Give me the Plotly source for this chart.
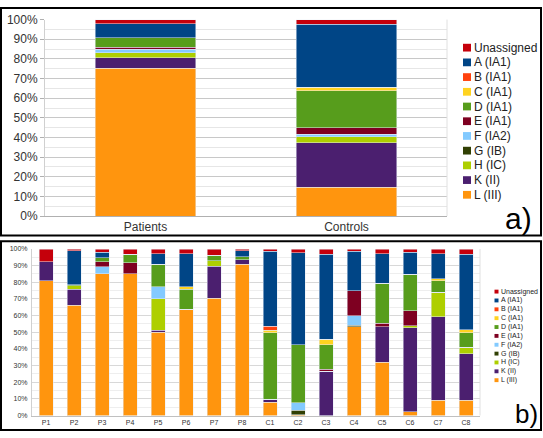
import plotly.graph_objects as go

W, H = 543, 438

# ---------------- data ----------------
series_names = ["L (III)", "K (II)", "H (IC)", "G (IB)", "F (IA2)", "E (IA1)",
                "D (IA1)", "C (IA1)", "B (IA1)", "A (IA1)", "Unassigned"]
series_colors = ["#ff950e", "#4b1f6f", "#aecf00", "#314004", "#83caff", "#7e0021",
                 "#579d1c", "#ffd320", "#ff420e", "#004586", "#c5000b"]

groups_a = ["Patients", "Controls"]
a_L = [75.3, 14.8]
a_K = [5.3, 22.4]
a_H = [2.6, 3.1]
a_G = [0.0, 0.0]
a_F = [1.8, 1.3]
a_E = [1.0, 3.3]
a_D = [4.8, 18.9]
a_C = [0.0, 1.7]
a_B = [0.0, 0.0]
a_A = [7.2, 32.0]
a_U = [2.0, 2.5]

groups_b = ["P1", "P2", "P3", "P4", "P5", "P6", "P7", "P8",
            "C1", "C2", "C3", "C4", "C5", "C6", "C7", "C8"]
b_L = [81.0, 66.1, 85.1, 85.1, 50.1, 63.8, 70.4, 90.7, 8.1, 0.6, 0.0, 53.2, 31.9, 2.3, 9.1, 9.1]
b_K = [11.3, 9.7, 0.0, 0.0, 1.2, 0.0, 19.3, 2.9, 1.6, 0.0, 26.5, 0.0, 21.3, 50.3, 50.3, 28.0]
b_H = [0.0, 2.0, 0.0, 0.0, 18.7, 0.0, 3.1, 0.0, 0.0, 0.0, 0.0, 0.0, 0.0, 1.4, 14.5, 3.9]
b_G = [0.0, 0.0, 0.0, 0.0, 0.0, 0.0, 0.0, 0.0, 0.0, 2.6, 0.0, 1.0, 0.0, 0.0, 0.0, 0.0]
b_F = [0.0, 0.0, 4.3, 0.0, 7.4, 0.0, 0.0, 0.0, 0.0, 4.5, 0.0, 5.6, 0.0, 0.0, 0.0, 0.0]
b_E = [0.0, 0.0, 2.9, 6.6, 0.0, 0.0, 0.0, 0.0, 0.0, 0.0, 1.4, 15.1, 2.3, 8.9, 0.0, 0.0]
b_D = [0.0, 0.8, 2.5, 5.0, 13.3, 12.0, 3.3, 1.6, 40.0, 34.7, 14.7, 0.0, 23.8, 22.0, 7.1, 8.7]
b_C = [0.0, 0.0, 0.0, 0.0, 0.0, 1.4, 0.0, 0.0, 1.4, 0.0, 3.2, 0.0, 0.0, 0.0, 1.0, 1.9]
b_B = [0.0, 0.0, 0.0, 0.0, 0.0, 0.0, 0.0, 0.0, 2.5, 0.0, 0.0, 0.0, 0.0, 0.0, 0.0, 0.0]
b_A = [0.0, 20.4, 3.3, 0.0, 6.4, 19.9, 0.0, 3.8, 45.0, 55.3, 50.9, 23.7, 17.8, 13.2, 15.1, 45.1]
b_U = [7.7, 1.0, 1.9, 3.3, 2.9, 2.9, 3.9, 1.0, 1.4, 2.3, 3.3, 1.4, 2.9, 1.9, 2.9, 3.3]

pct_ticks = [0, 10, 20, 30, 40, 50, 60, 70, 80, 90, 100]
pct_labels = [f"{v}%" for v in pct_ticks]

a_values = [a_L, a_K, a_H, a_G, a_F, a_E, a_D, a_C, a_B, a_A, a_U]
b_values = [b_L, b_K, b_H, b_G, b_F, b_E, b_D, b_C, b_B, b_A, b_U]

# ---------------- figure ----------------
fig = go.Figure()
for name, color, va, vb in zip(series_names, series_colors, a_values, b_values):
    fig.add_trace(go.Bar(x=groups_a, y=va, name=name, marker_color=color,
                         xaxis="x", yaxis="y", showlegend=False))
    fig.add_trace(go.Bar(x=groups_b, y=vb, name=name, marker_color=color,
                         xaxis="x2", yaxis="y2", showlegend=False))

def px_x(x):
    return x / W

def px_y(y):
    return 1 - y / H

FONT = "Liberation Sans, Arial, sans-serif"
grid_major = "#c8c8c8"
grid_minor = "#e6e6e6"

fig.update_layout(
    width=W, height=H,
    margin=dict(l=0, r=0, t=0, b=0),
    paper_bgcolor="white", plot_bgcolor="white",
    barmode="stack", bargap=0.5,
    font=dict(family=FONT, color="#333333"),
    xaxis=dict(domain=[px_x(45), px_x(447)], anchor="y", type="category",
               range=[-0.5, 1.5], showgrid=False, zeroline=False,
               showline=True, linecolor="#b0b0b0", mirror=False,
               ticks="", tickfont=dict(size=12, color="#333333")),
    yaxis=dict(domain=[px_y(216), px_y(13)], anchor="x", range=[0, 100],
               tickvals=pct_ticks, ticktext=pct_labels,
               showgrid=True, gridcolor=grid_major, gridwidth=1,
               minor=dict(dtick=5, showgrid=True, gridcolor=grid_minor),
               zeroline=False, showline=True, linecolor="#d0d0d0",
               ticks="outside", ticklen=4, tickcolor="#b0b0b0",
               tickfont=dict(size=12, color="#333333")),
    xaxis2=dict(domain=[px_x(32), px_x(480)], anchor="y2", type="category",
                range=[-0.5, 15.5], showgrid=False, zeroline=False,
                showline=True, linecolor="#c0c0c0", ticks="",
                tickfont=dict(size=7, color="#333333")),
    yaxis2=dict(domain=[px_y(422), px_y(250)], anchor="x2", range=[0, 100],
                tickvals=pct_ticks, ticktext=pct_labels,
                showgrid=True, gridcolor="#d8d8d8", gridwidth=1,
                minor=dict(dtick=5, showgrid=True, gridcolor="#eeeeee"),
                zeroline=False, showline=True, linecolor="#d0d0d0",
                ticks="", ticklabelstandoff=2,
                tickfont=dict(size=7, color="#333333")),
)

shapes = [
    dict(type="rect", xref="paper", yref="paper",
         x0=px_x(1), x1=px_x(541), y0=px_y(236), y1=px_y(1),
         line=dict(color="black", width=2), fillcolor="rgba(0,0,0,0)"),
    dict(type="rect", xref="paper", yref="paper",
         x0=px_x(1), x1=px_x(541), y0=px_y(437), y1=px_y(242),
         line=dict(color="black", width=2), fillcolor="rgba(0,0,0,0)"),
    # right-hand grid borders
    dict(type="line", xref="paper", yref="paper",
         x0=px_x(447), x1=px_x(447), y0=px_y(216), y1=px_y(13),
         line=dict(color="#e0e0e0", width=1)),
    dict(type="line", xref="paper", yref="paper",
         x0=px_x(480), x1=px_x(480), y0=px_y(422), y1=px_y(250),
         line=dict(color="#e0e0e0", width=1)),
]
annotations = []

# legends (top entry = last series)
leg_order = list(zip(series_names, series_colors))[::-1]
for i, (name, color) in enumerate(leg_order):
    # top panel legend
    yc = 42 + i * 15.2
    shapes.append(dict(type="rect", xref="paper", yref="paper",
                       x0=px_x(463), x1=px_x(471), y0=px_y(yc + 4), y1=px_y(yc - 4),
                       fillcolor=color, line=dict(width=0)))
    annotations.append(dict(xref="paper", yref="paper", x=px_x(472), y=px_y(yc),
                            xanchor="left", yanchor="middle", showarrow=False,
                            text=name, font=dict(size=12, color="#222222")))
    # bottom panel legend
    yb = 294 + i * 9.15
    shapes.append(dict(type="rect", xref="paper", yref="paper",
                       x0=px_x(494.5), x1=px_x(498.5), y0=px_y(yb + 2), y1=px_y(yb - 2),
                       fillcolor=color, line=dict(width=0)))
    annotations.append(dict(xref="paper", yref="paper", x=px_x(498.5), y=px_y(yb),
                            xanchor="left", yanchor="middle", showarrow=False,
                            text=name, font=dict(size=7, color="#222222")))

annotations.append(dict(xref="paper", yref="paper", x=px_x(518), y=px_y(218),
                        xanchor="center", yanchor="middle", showarrow=False,
                        text="a)", font=dict(size=30, color="black")))
annotations.append(dict(xref="paper", yref="paper", x=px_x(526), y=px_y(420),
                        xanchor="center", yanchor="middle", showarrow=False,
                        text="b)", font=dict(size=26, color="black")))

fig.update_layout(shapes=shapes, annotations=annotations)
fig.write_html("out.html", config={"displayModeBar": False},
               post_script="document.body.style.margin='0px';")
